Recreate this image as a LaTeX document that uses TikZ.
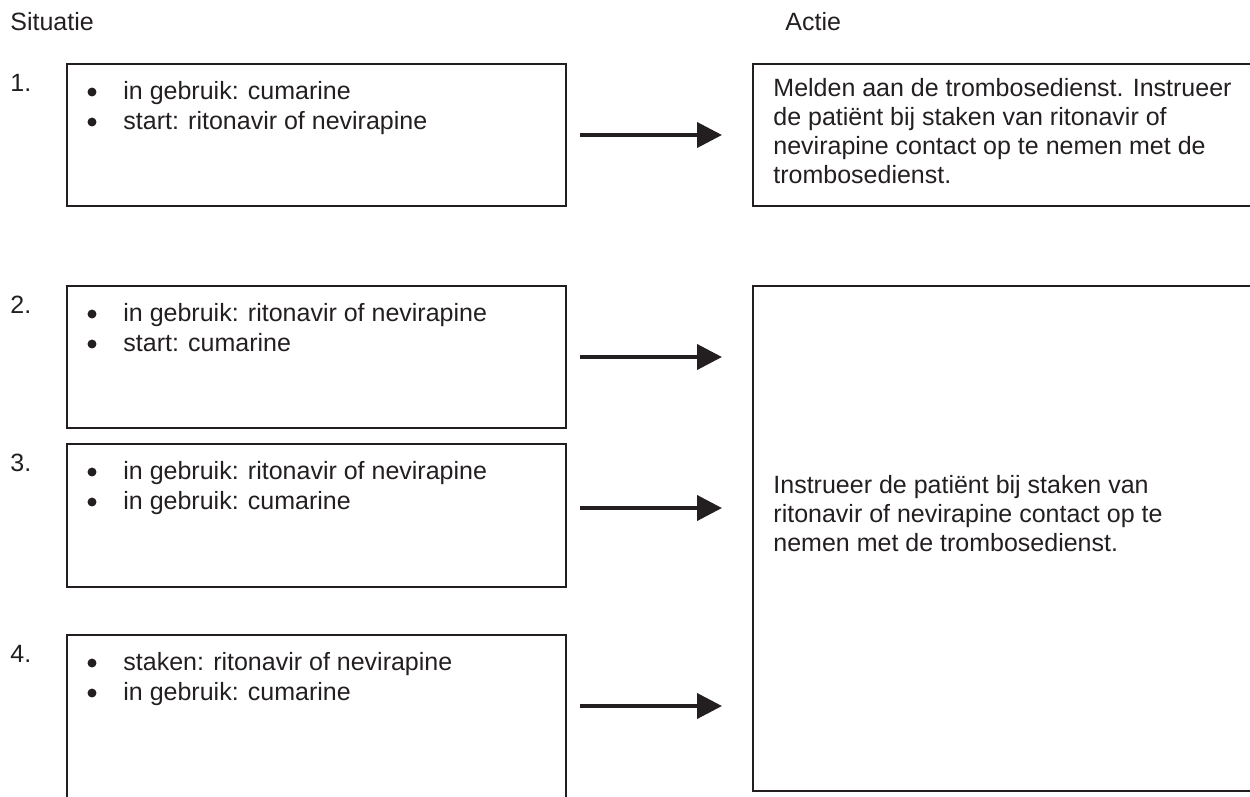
\documentclass[tikz,border=0pt]{standalone}
\usepackage{fontspec}
\setmainfont{Liberation Sans}
\usetikzlibrary{arrows.meta,fit}
\definecolor{ink}{HTML}{231F20}
\begin{document}
\begin{tikzpicture}[x=0.48pt,y=-0.48pt,
  font=\fontsize{12}{14}\selectfont,
  box/.style={draw=ink, line width=1pt, inner sep=0pt},
  arr/.style={draw=ink, line width=1.9pt, -{Triangle[length=12pt,width=12pt]}},
  dot/.style={circle, fill=ink, inner sep=0pt, minimum size=4.3pt},
  lbl/.style={text=ink, inner sep=0pt, anchor=base west}]
\useasboundingbox (0,0) rectangle (1250,796);
\clip (0,0) rectangle (1250,796);
% headers
\node[lbl] (hs) at (10,30) {Situatie};
\node[lbl] (ha) at (785,30) {Actie};
% left boxes
\node[box, fit={(67,64) (566,206)}] (b1) {};
\node[box, fit={(67,286) (566,428)}] (b2) {};
\node[box, fit={(67,444) (566,587)}] (b3) {};
\node[box, fit={(67,635) (566,830)}] (b4) {};
% right boxes
\node[box, fit={(753,64) (1270,206)}] (r1) {};
\node[box, fit={(753,286) (1270,791)}] (r2) {};
% numbers
\node[lbl] (n1) at (10,91) {1.};
\node[lbl] (n2) at (10,313) {2.};
\node[lbl] (n3) at (10,471) {3.};
\node[lbl] (n4) at (10,662) {4.};
% bullets box 1
\node[dot] (p1a) at (92,92) {};
\node[lbl] (t1a) at (123,99) {in gebruik: cumarine};
\node[dot] (p1b) at (92,122) {};
\node[lbl] (t1b) at (123,129) {start: ritonavir of nevirapine};
% bullets box 2
\node[dot] (p2a) at (92,314) {};
\node[lbl] (t2a) at (123,321) {in gebruik: ritonavir of nevirapine};
\node[dot] (p2b) at (92,344) {};
\node[lbl] (t2b) at (123,351) {start: cumarine};
% bullets box 3
\node[dot] (p3a) at (92,472) {};
\node[lbl] (t3a) at (123,479) {in gebruik: ritonavir of nevirapine};
\node[dot] (p3b) at (92,502) {};
\node[lbl] (t3b) at (123,509) {in gebruik: cumarine};
% bullets box 4
\node[dot] (p4a) at (92,663) {};
\node[lbl] (t4a) at (123,670) {staken: ritonavir of nevirapine};
\node[dot] (p4b) at (92,693) {};
\node[lbl] (t4b) at (123,700) {in gebruik: cumarine};
% right box 1 text
\node[lbl] (r1a) at (773,96) {Melden aan de trombosedienst. Instrueer};
\node[lbl] (r1b) at (773,125) {de patiënt bij staken van ritonavir of};
\node[lbl] (r1c) at (773,154) {nevirapine contact op te nemen met de};
\node[lbl] (r1d) at (773,183) {trombosedienst.};
% right box 2 text
\node[lbl] (r2a) at (773,493) {Instrueer de patiënt bij staken van};
\node[lbl] (r2b) at (773,522) {ritonavir of nevirapine contact op te};
\node[lbl] (r2c) at (773,551) {nemen met de trombosedienst.};
% arrow ends
\coordinate (s1) at (580,135); \coordinate (e1) at (722,135);
\coordinate (s2) at (580,357); \coordinate (e2) at (722,357);
\coordinate (s3) at (580,508); \coordinate (e3) at (722,508);
\coordinate (s4) at (580,706); \coordinate (e4) at (722,706);
\draw[arr] (s1) -- (e1);
\draw[arr] (s2) -- (e2);
\draw[arr] (s3) -- (e3);
\draw[arr] (s4) -- (e4);
\end{tikzpicture}
\end{document}
